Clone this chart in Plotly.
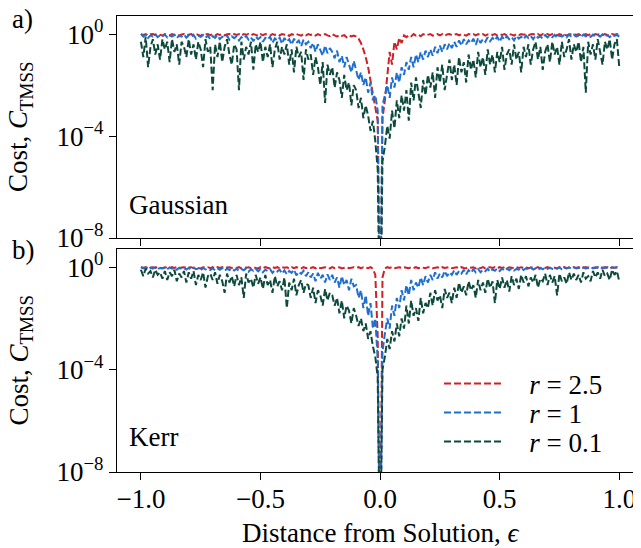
import numpy as np
import plotly.graph_objects as go

# ---------------- data (log10 of cost) ----------------
# sampling grid of the distance from the solution, epsilon (step 0.01)
eps = np.round(np.linspace(-1.0, 1.0, 201), 2)

series_names = ["<i>r</i> = 2.5", "<i>r</i> = 1", "<i>r</i> = 0.1"]
series_colors = ["#cc2229", "#1f6fd1", "#0d4a3c"]
panel_names = ["Gaussian", "Kerr"]
y_tick_vals = [1e0, 1e-4, 1e-8]
y_tick_text = ["10<sup>0</sup>", "10<sup>\u22124</sup>", "10<sup>\u22128</sup>"]
x_tick_vals = [-1.0, -0.5, 0.0, 0.5, 1.0]
x_tick_text = ["\u22121.0", "\u22120.5", "0.0", "0.5", "1.0"]
y_title = "Cost, <i>C</i><sub>TMSS</sub>"
x_title = "Distance from Solution, <i>\u03f5</i>"

# Gaussian panel -------------------------------------------------------
gauss_r25_log = [
    0, -0.03, 0, -0.05, -0.01, 0, -0.04, 0, -0.02, -0.06,
    0, -0.02, -0.05, 0, -0.03, 0, -0.06, -0.01, 0, -0.04,
    -0.02, 0, -0.05, 0, -0.03, -0.07, 0, -0.02, 0, -0.04,
    0, -0.06, 0, -0.03, 0, -0.05, -0.01, 0, -0.04, 0,
    -0.03, 0, -0.06, 0, -0.02, 0, -0.05, 0, -0.03, -0.07,
    0, -0.04, 0, -0.02, -0.06, 0, -0.03, 0, -0.05, 0,
    -0.02, 0, -0.07, 0, -0.04, 0, -0.03, -0.06, 0, -0.05,
    0, -0.03, 0, -0.06, 0, -0.04, -0.02, 0, -0.05, -0.08,
    0, -0.05, -0.1, -0.03, -0.07, -0.04, -0.12, -0.05, -0.09, -0.06,
    -0.1, -0.18, -0.35, -0.6, -0.9, -1.3, -1.8, -2.3, -2.8, -3.4,
    -12,
    -3.3, -2.6, -1.6, -0.7, -1.2, -0.3, -0.6, -0.15, -0.35, -0.05,
    -0.12, -0.04, -0.09, 0, -0.06, -0.02, -0.08, 0, -0.05, -0.03,
    0, -0.06, -0.02, 0, -0.05, 0, -0.07, -0.01, 0, -0.04,
    -0.02, 0, -0.05, 0, -0.03, -0.06, 0, -0.02, 0, -0.05,
    0, -0.04, 0, -0.06, -0.01, 0, -0.03, 0, -0.05, 0,
    -0.03, 0, -0.05, 0, -0.02, -0.06, 0, -0.04, 0, -0.02,
    0, -0.05, -0.01, 0, -0.04, 0, -0.06, 0, -0.03, 0,
    -0.04, 0, -0.02, -0.05, 0, -0.03, 0, -0.06, -0.01, 0,
    0, -0.03, 0, -0.05, -0.02, 0, -0.04, 0, -0.06, 0,
    -0.02, 0, -0.04, 0, -0.03, -0.05, 0, -0.02, 0, -0.04,
]
gauss_r1_log = [
    0.0, -0.1, -0.02, -0.15, -0.05, -0.1, -0.01, -0.12, -0.04, -0.1,
    -0.02, -0.13, -0.05, -0.1, -0.03, -0.16, -0.06, -0.1, -0.02, -0.14,
    -0.05, -0.12, -0.03, -0.18, -0.07, -0.11, -0.04, -0.15, -0.06, -0.2,
    -0.08, -0.15, -0.05, -0.2, -0.1, -0.14, -0.06, -0.22, -0.09, -0.16,
    -0.08, -0.25, -0.12, -0.18, -0.07, -0.22, -0.13, -0.28, -0.1, -0.2,
    -0.12, -0.3, -0.15, -0.22, -0.1, -0.35, -0.17, -0.25, -0.14, -0.38,
    -0.15, -0.3, -0.2, -0.42, -0.18, -0.35, -0.25, -0.48, -0.22, -0.4,
    -0.3, -0.55, -0.35, -0.7, -0.4, -0.6, -0.85, -0.45, -0.75, -0.55,
    -0.7, -0.95, -0.65, -1.1, -0.85, -1.3, -0.9, -1.2, -1.5, -1.05,
    -1.4, -1.8, -1.5, -2.0, -1.7, -2.3, -1.9, -2.6, -2.4, -3.0,
    -12,
    -2.8, -2.4, -2.0, -2.5, -1.7, -2.1, -1.5, -1.9, -1.3, -1.6,
    -1.1, -1.4, -0.9, -1.3, -0.8, -1.1, -0.7, -1.0, -0.65, -0.9,
    -0.6, -0.85, -0.5, -0.75, -0.45, -0.7, -0.4, -0.6, -0.35, -0.55,
    -0.3, -0.5, -0.25, -0.45, -0.2, -0.4, -0.25, -0.35, -0.18, -0.42,
    -0.15, -0.35, -0.2, -0.3, -0.12, -0.28, -0.15, -0.25, -0.1, -0.3,
    -0.1, -0.22, -0.08, -0.2, -0.12, -0.25, -0.07, -0.18, -0.1, -0.2,
    -0.06, -0.16, -0.08, -0.2, -0.05, -0.14, -0.09, -0.17, -0.04, -0.13,
    -0.05, -0.12, -0.03, -0.15, -0.06, -0.1, -0.04, -0.13, -0.02, -0.11,
    -0.03, -0.1, -0.05, -0.12, -0.02, -0.09, -0.04, -0.11, -0.02, -0.08,
    -0.03, -0.1, -0.01, -0.08, -0.04, -0.12, -0.02, -0.07, -0.03, -0.1,
]
gauss_r01_log = [
    -0.3, -0.9, -0.1, -1.3, -0.5, -0.2, -0.8, -0.4, -1.0, -0.2,
    -0.6, -0.3, -1.1, -0.2, -0.7, -0.4, -1.2, -0.3, -0.5, -0.9,
    -0.2, -0.8, -0.4, -1.0, -0.3, -0.6, -1.3, -0.2, -0.7, -0.5,
    -2.2, -0.4, -0.9, -0.3, -1.1, -0.5, -0.2, -0.8, -1.2, -0.4,
    -0.6, -2.2, -0.3, -1.0, -0.5, -0.8, -0.3, -1.4, -0.4, -0.7,
    -0.3, -1.1, -0.5, -0.9, -0.4, -1.3, -0.6, -0.3, -1.0, -0.5,
    -0.8, -0.4, -1.2, -0.6, -1.5, -0.5, -0.9, -0.7, -1.8, -0.6,
    -1.0, -0.8, -1.6, -0.9, -1.3, -2.0, -1.1, -2.7, -1.2, -1.6,
    -1.3, -2.1, -1.5, -1.8, -2.5, -1.6, -2.2, -1.9, -2.8, -2.0,
    -2.2, -2.9, -2.5, -3.3, -2.8, -3.2, -3.8, -3.4, -4.2, -5.3,
    -12,
    -5.0, -4.4, -3.6, -4.1, -3.0, -3.7, -2.6, -3.3, -2.4, -3.0,
    -2.2, -3.4, -1.9, -2.6, -1.7, -2.3, -2.9, -1.8, -2.4, -1.6,
    -2.1, -1.5, -2.5, -1.3, -1.9, -1.2, -2.2, -1.6, -1.0, -1.8,
    -1.2, -2.0, -0.9, -1.5, -1.1, -1.9, -0.8, -1.4, -1.0, -1.7,
    -0.7, -1.3, -0.9, -1.6, -0.6, -1.2, -0.8, -1.5, -0.7, -1.1,
    -0.5, -1.4, -0.8, -0.6, -1.2, -0.4, -1.0, -0.7, -1.5, -0.5,
    -0.9, -0.4, -1.2, -0.6, -0.3, -1.0, -0.5, -1.4, -0.7, -0.4,
    -1.1, -0.3, -0.8, -0.5, -1.2, -0.3, -0.9, -0.6, -0.2, -1.0,
    -0.4, -0.7, -0.3, -1.1, -0.5, -2.3, -0.3, -0.8, -0.4, -1.0,
    -0.2, -0.7, -1.2, -0.3, -0.6, -0.2, -1.0, -0.4, -0.2, -1.3,
]

# Kerr panel -----------------------------------------------------------
kerr_r25_log = [
    0, -0.02, 0, -0.04, -0.01, 0, -0.03, 0, -0.02, -0.04,
    0, -0.02, -0.04, 0, -0.03, 0, -0.05, -0.01, 0, -0.03,
    -0.02, 0, -0.04, 0, -0.03, -0.05, 0, -0.02, 0, -0.04,
    0, -0.05, 0, -0.03, 0, -0.04, -0.01, 0, -0.03, 0,
    -0.03, 0, -0.05, 0, -0.02, 0, -0.04, 0, -0.03, -0.05,
    0, -0.04, 0, -0.02, -0.05, 0, -0.03, 0, -0.04, 0,
    -0.02, 0, -0.05, 0, -0.04, 0, -0.03, -0.05, 0, -0.04,
    0, -0.03, 0, -0.05, 0, -0.04, -0.02, 0, -0.04, -0.05,
    0, -0.04, -0.02, 0, -0.05, -0.03, 0, -0.04, -0.02, 0,
    -0.03, 0, -0.05, 0, -0.02, -0.04, 0, -0.06, -0.3, -2.7,
    -12,
    -0.4, -0.05, 0, -0.03, 0, -0.04, -0.01, 0, -0.03, 0,
    -0.02, -0.04, 0, -0.03, 0, -0.05, 0, -0.02, -0.04, 0,
    0, -0.04, -0.02, 0, -0.05, 0, -0.03, -0.01, 0, -0.04,
    -0.02, 0, -0.05, 0, -0.03, -0.04, 0, -0.02, 0, -0.05,
    0, -0.04, 0, -0.05, -0.01, 0, -0.03, 0, -0.04, 0,
    -0.03, 0, -0.05, 0, -0.02, -0.04, 0, -0.03, 0, -0.02,
    0, -0.05, -0.01, 0, -0.04, 0, -0.05, 0, -0.03, 0,
    -0.04, 0, -0.02, -0.05, 0, -0.03, 0, -0.04, -0.01, 0,
    0, -0.03, 0, -0.05, -0.02, 0, -0.04, 0, -0.05, 0,
    -0.02, 0, -0.04, 0, -0.03, -0.05, 0, -0.02, 0, -0.03,
]
kerr_r1_log = [
    0.0, -0.05, -0.01, -0.08, -0.02, -0.06, 0.0, -0.07, -0.03, -0.05,
    -0.02, -0.08, -0.01, -0.06, -0.03, -0.1, -0.02, -0.07, -0.04, -0.09,
    -0.03, -0.1, -0.02, -0.08, -0.05, -0.12, -0.03, -0.09, -0.06, -0.11,
    -0.04, -0.12, -0.05, -0.1, -0.03, -0.14, -0.06, -0.11, -0.05, -0.13,
    -0.06, -0.15, -0.07, -0.12, -0.05, -0.18, -0.08, -0.14, -0.06, -0.16,
    -0.07, -0.2, -0.1, -0.15, -0.08, -0.22, -0.12, -0.17, -0.09, -0.25,
    -0.12, -0.28, -0.15, -0.22, -0.1, -0.32, -0.18, -0.26, -0.14, -0.35,
    -0.2, -0.4, -0.25, -0.55, -0.22, -0.45, -0.3, -0.6, -0.28, -0.5,
    -0.3, -0.6, -0.4, -0.8, -0.35, -0.7, -0.5, -0.9, -0.45, -0.75,
    -0.7, -1.2, -0.9, -1.6, -1.1, -1.9, -1.4, -2.4, -2.0, -3.6,
    -12,
    -3.3, -2.6, -2.0, -2.4, -1.5, -1.9, -1.2, -1.6, -0.9, -1.3,
    -0.7, -1.1, -0.5, -0.9, -0.6, -0.8, -0.4, -0.7, -0.35, -0.6,
    -0.3, -0.5, -0.2, -0.45, -0.25, -0.4, -0.15, -0.35, -0.2, -0.3,
    -0.12, -0.3, -0.15, -0.25, -0.1, -0.28, -0.12, -0.22, -0.08, -0.2,
    -0.08, -0.2, -0.1, -0.16, -0.06, -0.18, -0.09, -0.14, -0.05, -0.15,
    -0.05, -0.14, -0.06, -0.12, -0.04, -0.13, -0.07, -0.1, -0.03, -0.11,
    -0.04, -0.1, -0.02, -0.09, -0.05, -0.11, -0.03, -0.08, -0.02, -0.07,
    -0.02, -0.07, -0.03, -0.06, -0.01, -0.08, -0.02, -0.05, -0.01, -0.06,
    -0.01, -0.05, -0.02, -0.04, 0.0, -0.06, -0.01, -0.04, -0.02, -0.03,
    0.0, -0.04, -0.01, -0.03, 0.0, -0.05, -0.01, -0.02, 0.0, -0.03,
]
kerr_r01_log = [
    -0.1, -0.35, -0.05, -0.25, -0.15, -0.4, -0.1, -0.3, -0.2, -0.45,
    -0.15, -0.5, -0.2, -0.35, -0.1, -0.55, -0.25, -0.4, -0.15, -0.6,
    -0.2, -0.45, -0.15, -0.7, -0.3, -0.5, -0.2, -0.8, -0.35, -0.25,
    -0.5, -0.2, -0.65, -0.3, -0.55, -1.0, -0.25, -0.6, -0.35, -0.75,
    -0.3, -0.7, -0.4, -1.2, -0.25, -0.6, -0.45, -0.8, -0.3, -0.65,
    -0.4, -0.85, -0.3, -0.7, -0.5, -1.0, -0.35, -0.75, -0.55, -0.9,
    -0.4, -1.6, -0.6, -0.9, -0.45, -1.1, -0.7, -0.5, -1.0, -0.65,
    -0.7, -1.2, -0.8, -1.4, -0.9, -1.1, -1.5, -0.85, -1.3, -1.0,
    -1.1, -1.5, -1.2, -1.8, -1.3, -2.0, -1.5, -1.7, -2.2, -1.6,
    -1.9, -2.3, -2.0, -2.5, -2.2, -2.8, -2.5, -3.1, -3.5, -4.3,
    -12,
    -4.0, -3.5, -2.8, -3.2, -2.5, -2.9, -2.2, -2.7, -2.0, -2.4,
    -1.5, -2.2, -1.3, -1.9, -1.6, -2.1, -1.2, -1.8, -1.4, -1.6,
    -1.0, -1.5, -0.9, -1.3, -1.1, -1.6, -0.85, -1.2, -1.0, -1.4,
    -0.8, -1.2, -0.6, -1.0, -0.75, -1.1, -0.55, -0.9, -0.7, -1.2,
    -0.5, -0.9, -0.6, -1.0, -0.45, -0.8, -0.55, -1.4, -0.5, -0.85,
    -0.4, -0.8, -0.5, -0.95, -0.35, -0.7, -0.45, -0.85, -0.3, -0.6,
    -0.35, -0.75, -0.4, -0.6, -0.3, -0.8, -0.45, -0.55, -0.25, -0.7,
    -0.3, -0.6, -0.35, -1.1, -0.25, -0.55, -0.4, -0.65, -0.2, -0.5,
    -0.25, -0.5, -0.3, -0.6, -0.2, -0.45, -0.35, -0.55, -0.15, -0.4,
    -0.2, -0.45, -0.1, -0.35, -0.25, -0.5, -0.1, -0.3, -0.15, -0.55,
]

panels = [
    [gauss_r25_log, gauss_r1_log, gauss_r01_log],
    [kerr_r25_log, kerr_r1_log, kerr_r01_log],
]

# ---------------- geometry ----------------
# The page body adds an 8 px margin, so the figure is drawn 8 px smaller and
# all reference pixel positions are shifted by that offset.
WIN_W, WIN_H = 641, 548
OFF = 8
W, H = WIN_W - OFF, WIN_H - OFF
FONT = "Liberation Serif, Times New Roman, serif"
FS = 27

L_REF = 117                  # left edge of plotting area in the reference (px)
L = L_REF - OFF
PW = W - L
top_a, bot_a = 16, 238       # panel a, reference px
top_b, bot_b = 249, 472      # panel b, reference px


def ydom(top, bot):
    return [1 - (bot - OFF) / H, 1 - (top - OFF) / H]


def px_x(px):
    return (px - L_REF) / PW


def px_y(py):
    return 1 - (py - OFF) / H


legend_ids = ["legend", "legend2", "legend3"]
legend_rows = [384, 413, 442]

fig = go.Figure()
for p, series in enumerate(panels):
    xa = "x" if p == 0 else "x2"
    ya = "y" if p == 0 else "y2"
    for k, (name, color, logs) in enumerate(zip(series_names, series_colors, series)):
        fig.add_trace(go.Scatter(
            x=eps, y=np.power(10.0, np.array(logs, dtype=float)),
            mode="lines", name="\u00a0\u00a0\u00a0" + name, xaxis=xa, yaxis=ya,
            line=dict(color=color, width=2, dash="7px,3px"),
            showlegend=(p == 1), legend=legend_ids[k], hoverinfo="skip",
        ))

xrange_ = [-1.1, 1.0 + (641 - 619.3) / 238.8]
common_x = dict(range=xrange_, showline=True, linecolor="black", linewidth=1.2,
                mirror=True, ticks="outside", ticklen=7, tickwidth=1.2,
                tickcolor="black", showgrid=False, zeroline=False,
                automargin=False,
                tickvals=x_tick_vals, ticktext=x_tick_text,
                tickfont=dict(family=FONT, size=FS, color="black"))
common_y = dict(type="log", range=[-8, 0.71], showline=True, linecolor="black",
                linewidth=1.2, mirror=False, ticks="outside", ticklen=7,
                tickwidth=1.2, tickcolor="black", showgrid=False, zeroline=False,
                automargin=False,
                tickvals=y_tick_vals, ticktext=y_tick_text,
                tickfont=dict(family=FONT, size=FS, color="black"))

legend_common = dict(x=px_x(439), xanchor="left", yanchor="middle",
                     bgcolor="rgba(0,0,0,0)", borderwidth=0,
                     font=dict(family=FONT, size=FS, color="black"),
                     itemwidth=60)

fig.update_layout(
    template="none",
    width=W, height=H,
    margin=dict(l=L, r=0, t=0, b=0, pad=0, autoexpand=False),
    paper_bgcolor="white", plot_bgcolor="white",
    font=dict(family=FONT, size=FS, color="black"),
    xaxis=dict(common_x, domain=[0, 1], anchor="y", showticklabels=False),
    yaxis=dict(common_y, domain=ydom(top_a, bot_a), anchor="x"),
    xaxis2=dict(common_x, domain=[0, 1], anchor="y2", ticklabelstandoff=-5),
    yaxis2=dict(common_y, domain=ydom(top_b, bot_b), anchor="x2"),
    legend=dict(legend_common, y=px_y(legend_rows[0])),
    legend2=dict(legend_common, y=px_y(legend_rows[1])),
    legend3=dict(legend_common, y=px_y(legend_rows[2])),
    showlegend=True,
)

annots = [
    dict(text="a)", x=px_x(10), y=px_y(19), xanchor="left", angle=0),
    dict(text="b)", x=px_x(10), y=px_y(250), xanchor="left", angle=0),
    dict(text="Gaussian", x=px_x(127), y=px_y(205), xanchor="left", angle=0),
    dict(text="Kerr", x=px_x(127), y=px_y(437), xanchor="left", angle=0),
    dict(text=y_title, x=px_x(20), y=px_y((top_a + bot_a) / 2), xanchor="center", angle=-90),
    dict(text=y_title, x=px_x(20), y=px_y((top_b + bot_b) / 2), xanchor="center", angle=-90),
    dict(text=x_title, x=px_x(380), y=px_y(533), xanchor="center", angle=0),
]
for a in annots:
    fig.add_annotation(text=a["text"], x=a["x"], y=a["y"], xref="paper", yref="paper",
                       xanchor=a["xanchor"], yanchor="middle", textangle=a["angle"],
                       showarrow=False,
                       font=dict(family=FONT, size=FS, color="black"))

fig.write_html("out.html")
